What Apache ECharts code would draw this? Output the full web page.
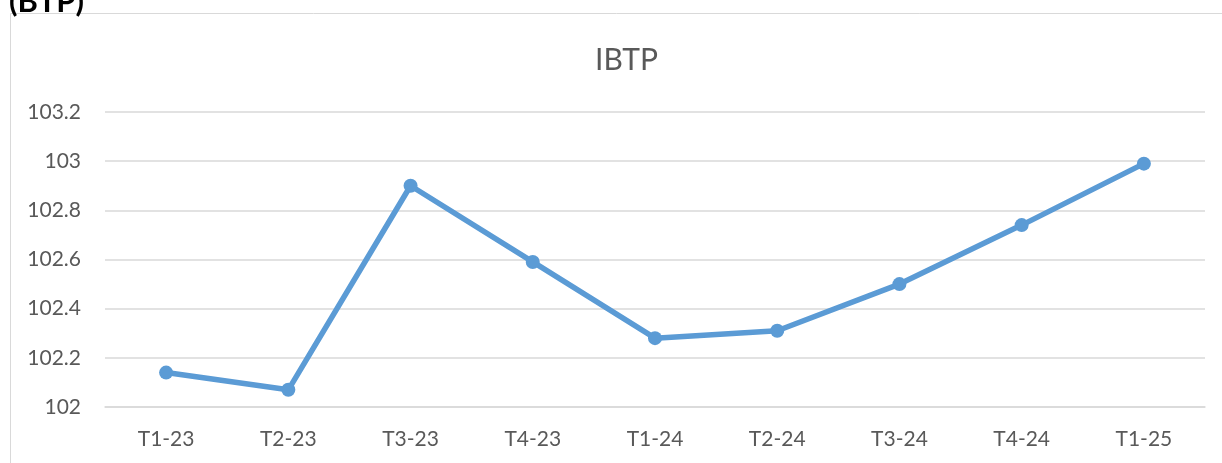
<!DOCTYPE html>
<html>
<head>
<meta charset="utf-8">
<script src="https://cdn.jsdelivr.net/npm/echarts@6/dist/echarts.min.js"></script>
<style>
  html, body { margin: 0; padding: 0; background: #fff; }
  #chart { width: 1222px; height: 463px; }
</style>
</head>
<body>
<div id="chart"></div>
<script>
const categories = ["T1-23", "T2-23", "T3-23", "T4-23", "T1-24", "T2-24", "T3-24", "T4-24", "T1-25"];
const ibtp = [102.14, 102.07, 102.9, 102.59, 102.28, 102.31, 102.5, 102.74, 102.99];

const textColor = "#595959";
const font = "Lato, 'Open Sans', sans-serif";

const chart = echarts.init(document.getElementById("chart"), null, { renderer: "canvas" });
chart.setOption({
  animation: false,
  textStyle: { fontFamily: font },
  title: {
    text: "IBTP",
    left: 590,
    top: 40,
    textStyle: { color: textColor, fontSize: 30, fontWeight: "normal", fontFamily: font },
  },
  graphic: [
    {
      type: "rect",
      shape: { x: 10.5, y: 13.5, width: 1300, height: 600 },
      style: { fill: "none", stroke: "#d9d9d9", lineWidth: 1 },
      silent: true,
    },
    {
      type: "text",
      left: 9,
      top: -14,
      style: { text: "(BTP)", fill: "#000", font: "bold 31px " + font },
    },
  ],
  grid: { left: 105, right: 17, top: 112, bottom: 56 },
  xAxis: {
    type: "category",
    data: categories,
    boundaryGap: true,
    axisLine: { show: true, lineStyle: { color: "#d9d9d9", width: 1.5 } },
    axisTick: { show: false },
    axisLabel: { color: textColor, fontSize: 21, margin: 22 },
  },
  yAxis: {
    type: "value",
    min: 102,
    max: 103.2,
    interval: 0.2,
    axisLine: { show: false },
    axisTick: { show: false },
    axisLabel: {
      color: textColor,
      fontSize: 21,
      margin: 24,
      formatter: (v) => String(Math.round(v * 10) / 10),
    },
    splitLine: { lineStyle: { color: "#d9d9d9", width: 1.5 } },
  },
  series: [
    {
      name: "IBTP",
      type: "line",
      data: ibtp,
      symbol: "circle",
      symbolSize: 14,
      lineStyle: { color: "#5b9bd5", width: 5.5 },
      itemStyle: { color: "#5b9bd5" },
    },
  ],
});
</script>
</body>
</html>
